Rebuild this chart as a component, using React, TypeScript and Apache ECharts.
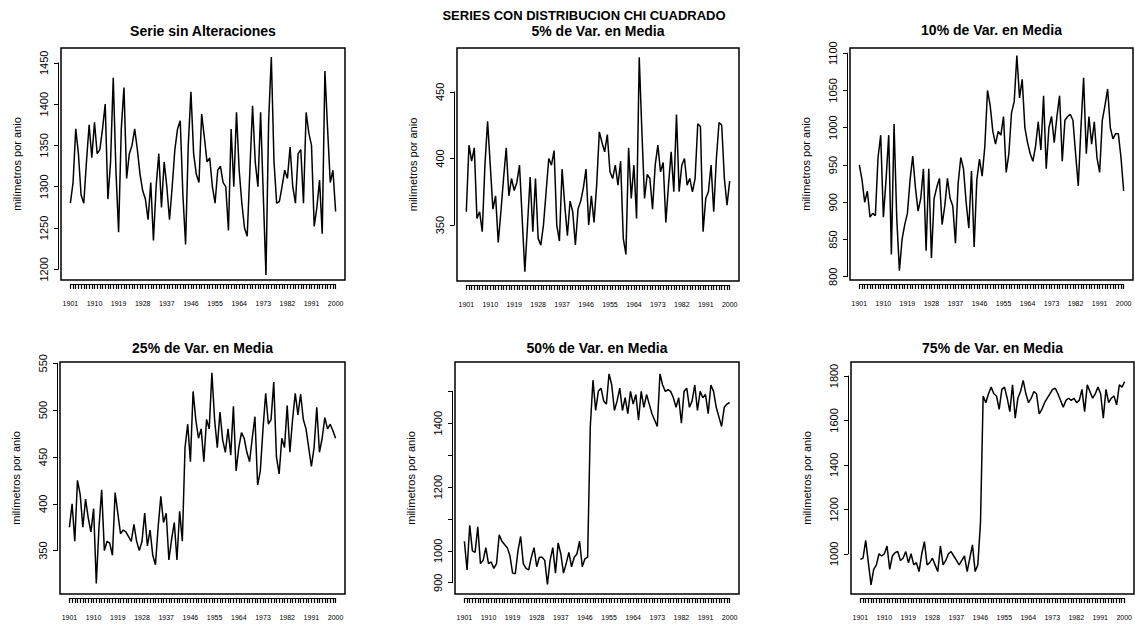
import React, { useEffect, useRef } from "react";
import * as echarts from "echarts";

// ---- data ----
const years: number[] = [];
for (let y = 1901; y <= 2000; y++) years.push(y);

const labelYears = [1901, 1910, 1919, 1928, 1937, 1946, 1955, 1964, 1973, 1982, 1991, 2000];

const serieSinAlteraciones = [
  1280, 1305, 1370, 1340, 1290, 1280, 1330, 1375, 1335, 1378,
  1340, 1345, 1370, 1400, 1285, 1330, 1432, 1320, 1245, 1370,
  1420, 1310, 1340, 1350, 1370, 1345, 1315, 1295, 1285, 1260,
  1305, 1235, 1300, 1340, 1275, 1330, 1300, 1260, 1300, 1345,
  1370, 1380, 1290, 1230, 1350, 1415, 1340, 1315, 1305, 1388,
  1360, 1330, 1335, 1300, 1280, 1320, 1325, 1305, 1300, 1247,
  1370, 1300, 1390, 1320, 1280, 1250, 1240, 1320, 1398, 1330,
  1300, 1390, 1290, 1193, 1380, 1457, 1330, 1280, 1282, 1300,
  1320, 1310, 1348, 1300, 1280, 1340, 1345, 1280, 1390, 1365,
  1350, 1252, 1275, 1308, 1243, 1440, 1370, 1305, 1320, 1270,
];

const var5 = [
  360, 410, 398, 408, 355, 360, 345, 395, 428, 395,
  362, 372, 337, 360, 385, 408, 372, 385, 376, 382,
  395, 355, 315, 350, 386, 345, 385, 340, 335, 350,
  375, 400, 395, 406, 350, 338, 392, 365, 342, 368,
  360, 335, 362, 368, 378, 392, 350, 372, 352, 380,
  420, 412, 405, 418, 390, 385, 395, 380, 398, 340,
  328, 408, 370, 395, 355, 476, 420, 370, 388, 385,
  362, 395, 410, 390, 397, 352, 380, 405, 375, 433,
  375, 395, 400, 380, 385, 375, 385, 426, 424, 345,
  370, 375, 395, 360, 400, 427, 425, 385, 365, 383,
];

const var10 = [
  950, 930, 900, 915, 880, 885, 882, 960, 990, 880,
  930, 990, 830, 1005, 880, 808, 850, 870, 885, 930,
  962, 920, 888, 905, 945, 835, 945, 825, 905, 920,
  932, 870, 895, 932, 905, 895, 845, 925, 960, 945,
  900, 865, 942, 840, 930, 958, 935, 975, 1050, 1030,
  995, 978, 995, 990, 1015, 940, 965, 1020, 1035, 1097,
  1040, 1065, 1000, 980, 965, 955, 975, 1008, 970, 1043,
  945, 1000, 1015, 980, 1015, 1043, 955, 1010, 1015, 1018,
  1010, 965, 922, 1000, 1067, 965, 1015, 978, 1008, 960,
  940, 1010, 1030, 1052, 1000, 985, 992, 992, 960, 915,
];

const var25 = [
  375, 400, 360, 425, 410, 375, 405, 385, 370, 395,
  315, 375, 415, 350, 360, 358, 345, 412, 390, 368,
  372, 370, 365, 360, 378, 360, 350, 360, 390, 355,
  372, 345, 335, 375, 408, 380, 390, 340, 362, 380,
  340, 392, 360, 460, 485, 445, 520, 490, 470, 480,
  445, 490, 480, 540, 490, 460, 498, 468, 455, 480,
  452, 504, 435, 460, 476, 470, 455, 445, 470, 493,
  420, 435, 480, 518, 485, 490, 530, 450, 432, 470,
  460, 505, 455, 490, 518, 495, 517, 490, 480, 460,
  440, 460, 503, 455, 470, 492, 480, 485, 478, 470,
];

const var50 = [
  1030, 940, 1080, 1000, 995, 1075, 960, 970, 1010, 960,
  965, 945, 960, 1050, 1030, 1020, 1010, 985, 930, 928,
  1000, 1045, 960, 945, 940, 980, 1010, 950, 980, 980,
  970, 895, 970, 1010, 930, 1025, 990, 930, 960, 995,
  950, 980, 990, 1030, 950, 975, 980, 1390, 1535, 1440,
  1500, 1510, 1470, 1460, 1555, 1520, 1440, 1470, 1510, 1440,
  1480, 1430, 1500, 1460, 1490, 1410, 1500, 1450, 1490, 1460,
  1430, 1410, 1390, 1555, 1520, 1500, 1505, 1500, 1480, 1450,
  1480, 1400, 1500, 1510, 1450, 1470, 1520, 1440, 1500, 1480,
  1490, 1430, 1520, 1500, 1450, 1420, 1390, 1450, 1460, 1465,
];

const var75 = [
  975, 980, 1060, 960, 860, 930, 950, 1000, 990, 1000,
  1035, 930, 990, 1005, 1010, 970, 980, 1010, 960, 1000,
  950, 960, 920, 1000, 1055, 950, 960, 980, 950, 920,
  1035, 950, 970, 1000, 1010, 990, 970, 950, 970, 990,
  920, 980, 1040, 920, 950, 1140, 1710, 1680, 1720, 1750,
  1720, 1710, 1650, 1740, 1750, 1700, 1640, 1760, 1610, 1700,
  1730, 1780, 1720, 1680, 1700, 1730, 1720, 1630, 1650, 1680,
  1700, 1720, 1740, 1745, 1720, 1690, 1660, 1690, 1700, 1690,
  1700, 1680, 1690, 1740, 1640, 1760, 1730, 1700, 1720, 1750,
  1720, 1610, 1740, 1680, 1700, 1710, 1670, 1760, 1750, 1775,
];

const yTicks1 = [1200, 1250, 1300, 1350, 1400, 1450];
const yTicks2 = [350, 400, 450];
const yTicks3 = [800, 850, 900, 950, 1000, 1050, 1100];
const yTicks4 = [350, 400, 450, 500, 550];
const yTicks5 = [900, 1000, 1100, 1200, 1300, 1400, 1500];
const yLabels5 = [900, 1000, 1200, 1400];
const yTicks6 = [1000, 1200, 1400, 1600, 1800];

const titles = [
  "Serie sin Alteraciones",
  "5% de Var. en Media",
  "10% de Var. en Media",
  "25% de Var. en Media",
  "50% de Var. en Media",
  "75% de Var. en Media",
];
const mainTitle = "SERIES CON DISTRIBUCION CHI CUADRADO";
const yName = "milímetros por anio";

// ---- layout ----
const FONT = "'Liberation Sans', Arial, Helvetica, sans-serif";
const X_MIN = 1897.5;
const X_MAX = 2003.5;

const panels = [
  { data: serieSinAlteraciones, box: [61, 48, 284, 232], y: [1187, 1468], ticks: yTicks1, labels: yTicks1, ty: 31 },
  { data: var5, box: [457, 48, 282, 233], y: [308, 483], ticks: yTicks2, labels: yTicks2, ty: 30.5 },
  { data: var10, box: [850, 48, 283, 232], y: [795.6, 1107], ticks: yTicks3, labels: yTicks3, ty: 30 },
  { data: var25, box: [60, 362, 285, 232], y: [303.7, 551.4], ticks: yTicks4, labels: yTicks4, ty: 348 },
  { data: var50, box: [455, 362, 284, 232], y: [864.6, 1592], ticks: yTicks5, labels: yLabels5, ty: 348 },
  { data: var75, box: [851, 362, 283, 232], y: [819, 1863], ticks: yTicks6, labels: yTicks6, ty: 348 },
];

const plain = (v: number) => String(v);

function buildOption() {
  const grid: any[] = [];
  const xAxis: any[] = [];
  const yAxis: any[] = [];
  const series: any[] = [];
  const graphic: any[] = [];
  const n = panels.length;

  // main grids
  panels.forEach((p, k) => {
    const [l, t, w, h] = p.box;
    grid[k] = {
      left: l, top: t, width: w, height: h,
      show: true, borderColor: "#000", borderWidth: 1.5, backgroundColor: "transparent",
    };
    xAxis[k] = { type: "value", gridIndex: k, min: X_MIN, max: X_MAX, show: false, splitLine: { show: false } };
    yAxis[k] = {
      type: "value", gridIndex: k, min: p.y[0], max: p.y[1],
      axisLine: { show: false }, axisTick: { show: false }, axisLabel: { show: false }, splitLine: { show: false },
      name: yName, nameLocation: "middle", nameGap: 39, nameRotate: 90,
      nameTextStyle: { fontSize: 11, color: "#000", fontFamily: FONT },
    };
    series.push({
      type: "line", xAxisIndex: k, yAxisIndex: k, showSymbol: false, symbol: "none",
      lineStyle: { color: "#000", width: 1.5 }, silent: true,
      data: years.map((yr, i) => [yr, p.data[i]]),
    });
    graphic.push({
      type: "text", x: l + w / 2, y: p.ty,
      style: { text: titles[k], fill: "#000", font: `bold 14px ${FONT}`, textAlign: "center", textVerticalAlign: "middle" },
    });
  });

  // x tick grids
  panels.forEach((p, k) => {
    const [l, t, w, h] = p.box;
    const gi = n + k;
    grid[gi] = {
      left: l + ((years[0] - X_MIN) / (X_MAX - X_MIN)) * w,
      width: ((years[years.length - 1] - years[0]) / (X_MAX - X_MIN)) * w,
      top: t + h + 3, height: 1,
    };
    xAxis[gi] = {
      type: "value", gridIndex: gi, min: years[0], max: years[years.length - 1], position: "bottom",
      axisLine: { show: true, lineStyle: { color: "#000", width: 1 } },
      axisTick: { show: true, customValues: years, length: 5, lineStyle: { color: "#000", width: 1.2 } },
      axisLabel: { customValues: labelYears, formatter: plain, fontSize: 7, margin: 16, color: "#000", fontFamily: FONT },
      splitLine: { show: false },
    };
    yAxis[gi] = { type: "value", gridIndex: gi, min: 0, max: 1, show: false };
  });

  // y tick grids
  panels.forEach((p, k) => {
    const [l, t, w, h] = p.box;
    const gi = 2 * n + k;
    const tmin = p.ticks[0];
    const tmax = p.ticks[p.ticks.length - 1];
    const span = p.y[1] - p.y[0];
    grid[gi] = {
      left: l - 3, width: 1,
      top: t + ((p.y[1] - tmax) / span) * h,
      height: ((tmax - tmin) / span) * h,
    };
    xAxis[gi] = { type: "value", gridIndex: gi, min: 0, max: 1, show: false };
    yAxis[gi] = {
      type: "value", gridIndex: gi, min: tmin, max: tmax, position: "left",
      axisLine: { show: true, lineStyle: { color: "#000", width: 1 } },
      axisTick: { show: true, customValues: p.ticks, length: 4, lineStyle: { color: "#000", width: 1 } },
      axisLabel: { customValues: p.labels, formatter: plain, rotate: 90, fontSize: 11, margin: 9, color: "#000", fontFamily: FONT },
      splitLine: { show: false },
    };
  });

  graphic.push({
    type: "text", x: 584, y: 15.5,
    style: { text: mainTitle, fill: "#000", font: `bold 13px ${FONT}`, textAlign: "center", textVerticalAlign: "middle" },
  });

  return {
    animation: false,
    backgroundColor: "#fff",
    textStyle: { fontFamily: FONT },
    grid, xAxis, yAxis, series, graphic,
  };
}

export default function App() {
  const ref = useRef<HTMLDivElement>(null);
  useEffect(() => {
    document.body.style.margin = "0";
    if (!ref.current) return;
    const chart = echarts.init(ref.current, null, { renderer: "svg" });
    chart.setOption(buildOption());
    return () => chart.dispose();
  }, []);
  return <div ref={ref} style={{ width: 1135, height: 626 }} />;
}
